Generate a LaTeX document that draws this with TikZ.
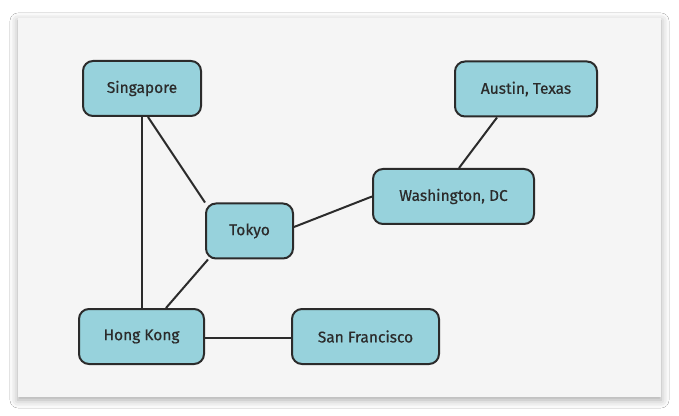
\documentclass[tikz,border=0pt]{standalone}
\usepackage{fontspec}
\setmainfont{Fira Sans}
\newfontfamily\cityfont{Fira Sans}[FakeBold=0.6]
\usetikzlibrary{backgrounds}
\usetikzlibrary{shadows.blur}
\definecolor{cityfill}{HTML}{97D2DC}
\definecolor{cityline}{HTML}{2B2B2B}
\definecolor{panelgray}{HTML}{F5F5F5}

\begin{document}
\begin{tikzpicture}[x=1pt,y=1pt,
  city/.style={rectangle,rounded corners=10pt,draw=cityline,line width=2pt,fill=cityfill,
    minimum height=55pt,inner sep=0pt,font=\cityfont\fontsize{15.5}{18}\selectfont,text=cityline},
  link/.style={draw=cityline,line width=2pt}]
\useasboundingbox (0,0) rectangle (679,415);

\node[city,minimum width=118pt] (sing) at (142,326.5) {Singapore};
\node[city,minimum width=142pt] (aus) at (526,326) {Austin, Texas};
\node[city,minimum width=161pt] (wash) at (453.5,218.5) {Washington, DC};
\node[city,minimum width=87pt] (tokyo) at (249.5,184) {Tokyo};
\node[city,minimum width=125pt] (hk) at (141.5,78.5) {Hong Kong};
\node[city,minimum width=147pt] (sf) at (365.5,78.5) {San Francisco};

\begin{scope}[on background layer]
\fill[white] (0,0) rectangle (679,415);
\fill[panelgray,blur shadow={shadow xshift=0pt,shadow yshift=-3pt,shadow blur radius=8pt,shadow opacity=35}] (18,18) rectangle (661,397);
\draw[link] (sing.south) -- (sing.south |- hk.north);
\draw[link] ([xshift=6pt]sing.south) -- (tokyo.north west);
\draw[link] ([xshift=3pt]tokyo.south west) -- ([xshift=24.5pt]hk.north);
\draw[link] ([yshift=4pt]tokyo.east) -- (wash.west);
\draw[link] ([xshift=-29pt]aus.south) -- ([xshift=5.5pt]wash.north);
\draw[link] ([yshift=-1.5pt]hk.east) -- ([yshift=-1.5pt]sf.west);
\end{scope}

\end{tikzpicture}
\end{document}
